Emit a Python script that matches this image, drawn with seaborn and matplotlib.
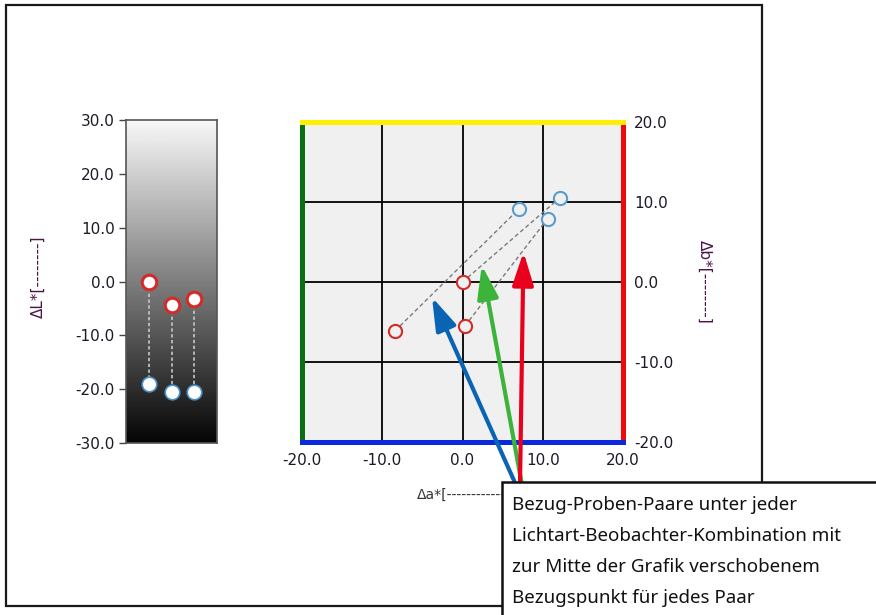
import numpy as np
import pandas as pd
import matplotlib
matplotlib.use("Agg")
import matplotlib.pyplot as plt
from matplotlib.patches import Rectangle
import seaborn as sns

# --- data -------------------------------------------------------------
pair_ids = [1, 2, 3]
dL_ref = [0.0, -4.3, -3.2]        # red: reference
dL_smp = [-19.0, -20.6, -20.6]    # blue: sample
da_ref = [0.0, -8.4, 0.3]
db_ref = [0.0, -6.1, -5.5]
da_smp = [12.1, 7.0, 10.6]
db_smp = [10.5, 9.1, 7.9]

l_ticks = [30.0, 20.0, 10.0, 0.0, -10.0, -20.0, -30.0]
ab_ticks = [-20.0, -10.0, 0.0, 10.0, 20.0]

arrow_colors = ["#0a64b4", "#3cb43c", "#e8001c"]
arrow_tips = [(-3.8, -1.9), (2.4, 2.1), (7.6, 3.75)]
arrow_tails_px = [(516, 485), (522, 485), (520, 485)]

callout_lines = [
    "Bezug-Proben-Paare unter jeder",
    "Lichtart-Beobachter-Kombination mit",
    "zur Mitte der Grafik verschobenem",
    "Bezugspunkt für jedes Paar",
]

RED = "#d42a2a"
BLUE = "#5a9ccc"
TICK_COLOR = "#1a1a2a"

# --- figure -----------------------------------------------------------
sns.set_theme(style="white")
plt.rcParams["font.family"] = ["DejaVu Sans"]

W, H = 876, 615
fig = plt.figure(figsize=(W / 100, H / 100), dpi=100)
fig.patch.set_facecolor("white")


def fx(px):
    return px / W


def fy(py):
    return 1 - py / H


# ----- ΔL* panel ------------------------------------------------------
axL = fig.add_axes([fx(126), fy(443), fx(217) - fx(126), fy(120) - fy(443)])
grad = np.linspace(0.97, 0.02, 256).reshape(-1, 1)
axL.imshow(grad, cmap="gray", vmin=0, vmax=1, aspect="auto",
           extent=[0, 4, -30, 30], zorder=0)

dfL = pd.DataFrame({
    "pos": pair_ids * 2,
    "dL": dL_ref + dL_smp,
    "pair": pair_ids * 2,
})
sns.lineplot(data=dfL, x="pos", y="dL", units="pair", estimator=None,
             sort=False, color="#c8c8c8", lw=1.2, linestyle=(0, (2, 1.5)),
             ax=axL, zorder=2)
sns.scatterplot(x=pair_ids, y=dL_ref, color="white", edgecolor=RED,
                linewidth=2.2, s=110, ax=axL, zorder=3)
sns.scatterplot(x=pair_ids, y=dL_smp, color="white", edgecolor="#4a90c8",
                linewidth=1.2, s=110, ax=axL, zorder=3)

axL.set_xlim(0, 4)
axL.set_ylim(-30, 30)
axL.set_xticks([])
axL.set_yticks(l_ticks)
axL.set_yticklabels([f"{v:.1f}" for v in l_ticks])
axL.tick_params(axis="y", left=True, length=5, width=1, color="#444",
                pad=3, labelsize=11, labelcolor=TICK_COLOR)
axL.set_xlabel("")
axL.set_ylabel("")
for s in axL.spines.values():
    s.set_color("#555555")
    s.set_linewidth(1.2)
fig.text(fx(38), fy(277), "ΔL*[--------]", rotation=90, ha="center",
         va="center", fontsize=11, color="#4a1448")

# ----- Δa*/Δb* panel --------------------------------------------------
axAB = fig.add_axes([fx(302), fy(442), fx(623) - fx(302), fy(122) - fy(442)])
axAB.set_facecolor("#f0f0f0")
axAB.set_xlim(-20, 20)
axAB.set_ylim(-20, 20)
for v in [-10, 0, 10]:
    axAB.axvline(v, color="black", lw=1.3, zorder=1)
    axAB.axhline(v, color="black", lw=1.3, zorder=1)

dfAB = pd.DataFrame({
    "da": da_ref + da_smp,
    "db": db_ref + db_smp,
    "pair": pair_ids * 2,
})
sns.lineplot(data=dfAB, x="da", y="db", units="pair", estimator=None,
             sort=False, color="#7a7a7a", lw=1.0, linestyle=(0, (3, 2)),
             ax=axAB, zorder=2)
sns.scatterplot(x=da_ref, y=db_ref, color="#f0f0f0", edgecolor=RED,
                linewidth=1.5, s=90, ax=axAB, zorder=3)
sns.scatterplot(x=da_smp, y=db_smp, color="#f0f0f0", edgecolor=BLUE,
                linewidth=1.5, s=90, ax=axAB, zorder=3)

axAB.set_xticks(ab_ticks)
axAB.set_xticklabels([f"{v:.1f}" for v in ab_ticks])
axAB.set_yticks(ab_ticks)
axAB.set_yticklabels([f"{v:.1f}" for v in ab_ticks])
axAB.yaxis.tick_right()
axAB.tick_params(axis="both", length=0, pad=8, labelsize=11,
                 labelcolor=TICK_COLOR)
axAB.set_xlabel("")
axAB.set_ylabel("")
spine_colors = {"top": "#ffee00", "left": "#0a6e14",
                "right": "#ee0a0a", "bottom": "#0a28dc"}
for side, col in spine_colors.items():
    axAB.spines[side].set_color(col)
    axAB.spines[side].set_linewidth(3.6)
    axAB.spines[side].set_visible(True)
axAB.spines["bottom"].set_zorder(5)

fig.text(fx(417), fy(495), "Δa*[-------------]", ha="left", va="center",
         fontsize=10, color="#333333")
fig.text(fx(705), fy(282), "Δb*[--------]", rotation=270, ha="center",
         va="center", fontsize=11, color="#4a1448")

# arrows pointing at the pair lines
for col, tip, tail in zip(arrow_colors, arrow_tips, arrow_tails_px):
    axAB.annotate("", xy=tip, xycoords="data",
                  xytext=(tail[0], H - tail[1]), textcoords="figure pixels",
                  arrowprops=dict(arrowstyle="-|>,head_length=1.0,head_width=0.32",
                                  color=col, lw=3.0, shrinkA=0, shrinkB=0,
                                  mutation_scale=20),
                  annotation_clip=False, zorder=6)

# ----- outer frame and callout ---------------------------------------
fig.add_artist(Rectangle((fx(6), fy(606)), fx(762) - fx(6), fy(5) - fy(606),
                         transform=fig.transFigure, fill=False,
                         ec="#1a1a1a", lw=1.6, zorder=9))
fig.add_artist(Rectangle((fx(502), fy(700)), fx(500), fy(482) - fy(700),
                         transform=fig.transFigure, fc="white",
                         ec="#111111", lw=1.8, zorder=10))
for i, line in enumerate(callout_lines):
    fig.text(fx(512), fy(505 + 31 * i), line, ha="left", va="center",
             fontsize=13.5, family=["Noto Sans", "DejaVu Sans"],
             color="#111111", zorder=11)

fig.savefig("out.png", dpi=100)
